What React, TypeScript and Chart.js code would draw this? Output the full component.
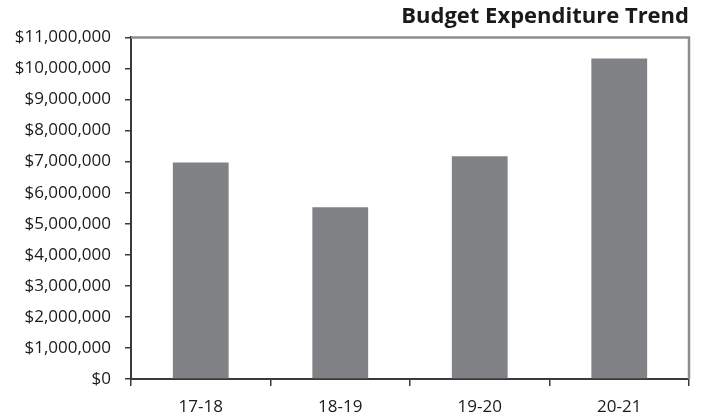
import React, { useEffect, useRef } from "react";
import { Chart, registerables } from "chart.js";

Chart.register(...registerables);

const categories = ["17-18", "18-19", "19-20", "20-21"];
const expenditure = [6970000, 5530000, 7170000, 10320000];
const titleText = "Budget Expenditure Trend";
const yMax = 11000000;
const yStep = 1000000;

const FONT = "'Open Sans', 'DejaVu Sans', sans-serif";

const framePlugin = {
  id: "frame",
  afterDatasetsDraw(chart: any) {
    const { ctx, chartArea } = chart;
    ctx.save();
    ctx.strokeStyle = "#8e8e8e";
    ctx.lineWidth = 2.5;
    ctx.beginPath();
    ctx.moveTo(chartArea.left, chartArea.top);
    ctx.lineTo(chartArea.right, chartArea.top);
    ctx.lineTo(chartArea.right, chartArea.bottom);
    ctx.stroke();
    ctx.restore();
  },
};

export default function App() {
  const ref = useRef<HTMLCanvasElement>(null);
  useEffect(() => {
    if (!ref.current) return;
    const chart = new Chart(ref.current, {
      type: "bar",
      data: {
        labels: categories,
        datasets: [
          {
            data: expenditure,
            backgroundColor: "#808285",
            barPercentage: 0.4,
            categoryPercentage: 1,
          },
        ],
      },
      options: {
        responsive: false,
        animation: false,
        layout: { padding: { left: 0, right: 19, top: 0, bottom: 0 } },
        plugins: {
          legend: { display: false },
          tooltip: { enabled: false },
          title: {
            display: true,
            text: titleText,
            align: "end",
            color: "#1a1a1a",
            font: { family: FONT, size: 22, weight: "bold" },
            padding: { top: 4, bottom: 7 },
          },
        },
        scales: {
          x: {
            grid: {
              drawOnChartArea: false,
              drawTicks: true,
              tickLength: 7,
              color: "#3a3a3a",
              lineWidth: 1.5,
            },
            border: { color: "#3a3a3a", width: 2 },
            ticks: {
              color: "#1a1a1a",
              font: { family: FONT, size: 17 },
              padding: 11,
            },
            afterFit(scale: any) {
              scale.height = 37;
            },
          },
          y: {
            min: 0,
            max: yMax,
            grid: {
              drawOnChartArea: false,
              drawTicks: true,
              tickLength: 6,
              color: "#3a3a3a",
              lineWidth: 1.5,
            },
            border: { color: "#3a3a3a", width: 2 },
            ticks: {
              stepSize: yStep,
              color: "#1a1a1a",
              font: { family: FONT, size: 17 },
              padding: 14,
              callback: (v: any) => "$" + Number(v).toLocaleString("en-US"),
            },
            afterFit(scale: any) {
              scale.width = 131;
            },
          },
        },
      },
      plugins: [framePlugin],
    });
    return () => chart.destroy();
  }, []);
  return (
    <div style={{ position: "fixed", left: 0, top: 0, width: 708, height: 416, background: "#fff" }}>
      <canvas ref={ref} width={708} height={416} />
    </div>
  );
}
